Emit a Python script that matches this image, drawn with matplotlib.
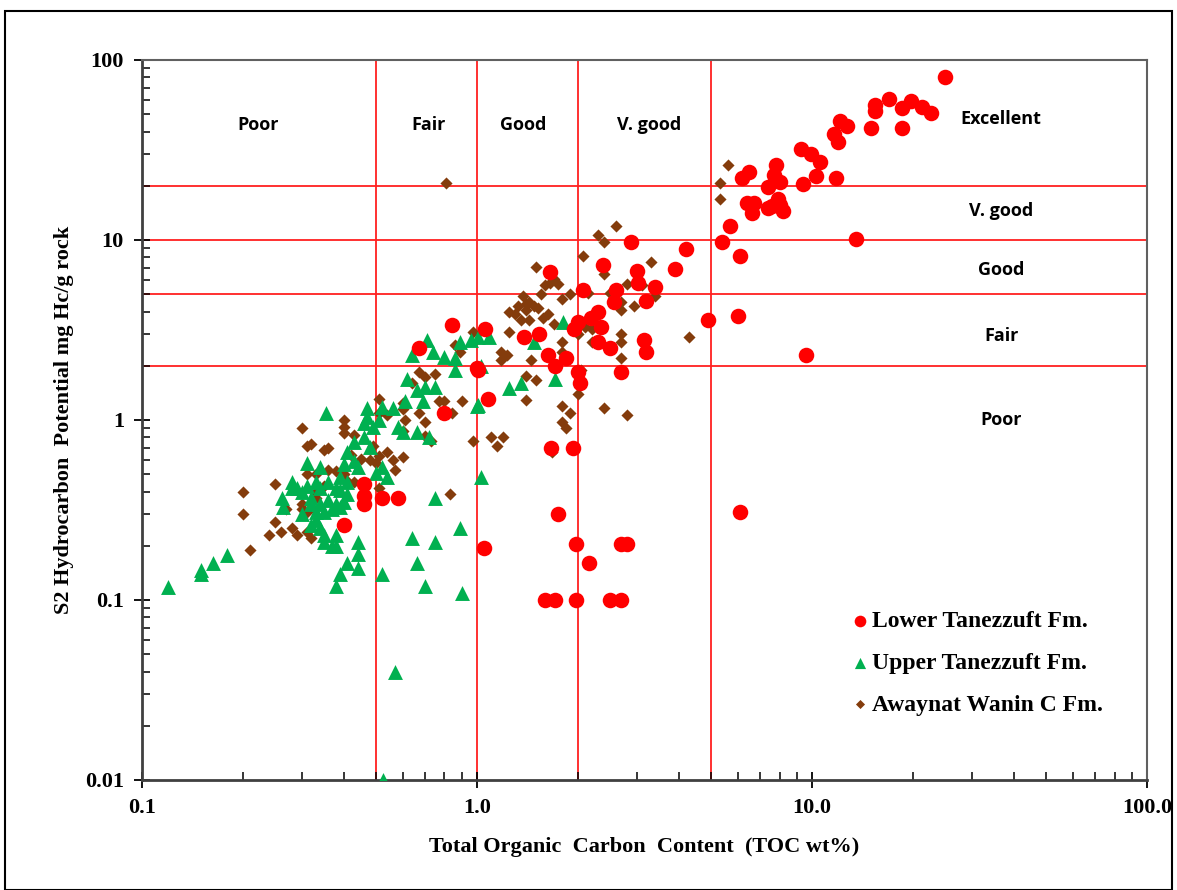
import matplotlib
matplotlib.use("Agg")
import matplotlib.pyplot as plt
from matplotlib.patches import Rectangle
from matplotlib.ticker import FixedLocator, FixedFormatter, LogLocator, NullFormatter

# Lower Tanezzuft Fm. (TOC wt%, S2 mg HC/g rock)
lower_toc = [25, 17.0, 15.4, 15.4, 18.6, 19.8, 21.3, 22.7, 15.0, 18.6, 12.1, 12.7, 11.6, 12.0,
             9.3, 9.9, 10.6, 10.3, 11.8, 9.4, 7.8, 7.7, 8.0, 7.4, 6.5, 6.2, 6.4, 6.7, 6.6, 7.4,
             7.9, 8.0, 8.2, 7.6, 5.7, 5.4, 6.1, 13.5, 4.9, 6.0, 9.6, 6.1,
             2.88, 4.2, 3.9, 2.37, 3.0, 3.03, 3.4, 3.2, 2.6, 2.57, 2.07, 1.65, 2.3, 2.19, 2.35,
             2.0, 1.95, 2.3, 2.5, 3.15, 3.2, 2.7, 2.0, 2.03, 1.85, 1.63, 1.71, 1.38, 1.53, 1.06,
             1.01, 1.08, 1.66, 1.94,
             0.84, 0.67, 0.80, 1.0, 0.46, 0.46, 0.52, 0.58, 0.40, 0.46,
             1.74, 1.05, 1.98, 2.7, 2.8, 2.16, 1.6, 1.71, 1.98, 2.5, 2.7]
lower_s2 = [80, 61, 56, 52, 54, 59, 55, 51, 42, 42, 46, 43, 39, 35,
            32, 30, 27, 22.6, 22, 20.5, 26, 23, 21, 19.8, 24, 22, 16, 16, 14.2, 15,
            17, 15.6, 14.4, 15.5, 12, 9.7, 8.1, 10.1, 3.6, 3.8, 2.3, 0.31,
            9.75, 8.9, 6.9, 7.3, 6.7, 5.8, 5.5, 4.6, 5.3, 4.5, 5.3, 6.6, 4.0, 3.7, 3.3,
            3.5, 3.2, 2.7, 2.5, 2.8, 2.4, 1.85, 1.85, 1.6, 2.2, 2.3, 2.0, 2.9, 3.0, 3.2,
            1.9, 1.3, 0.70, 0.70,
            3.37, 2.5, 1.1, 1.95, 0.38, 0.34, 0.37, 0.37, 0.26, 0.44,
            0.30, 0.195, 0.205, 0.205, 0.205, 0.16, 0.10, 0.10, 0.10, 0.10, 0.10]

# Upper Tanezzuft Fm.
upper_toc = [0.12, 0.15, 0.15, 0.163, 0.18,
             0.355, 0.262, 0.28, 0.28, 0.263, 0.29, 0.30, 0.31, 0.33, 0.34, 0.36, 0.32, 0.32,
             0.34, 0.35, 0.33, 0.32, 0.34, 0.35, 0.38, 0.31, 0.34, 0.40, 0.39, 0.38, 0.39, 0.37,
             0.33, 0.30, 0.36, 0.35, 0.37, 0.38,
             0.44, 0.44, 0.41, 0.44, 0.39, 0.38, 0.52, 0.64, 0.66, 0.75, 0.70, 0.89, 0.90, 0.75,
             1.03, 0.57, 0.525,
             0.71, 0.64, 0.74, 0.80, 0.86, 0.89, 0.96, 0.86, 0.62, 0.66, 0.70, 0.75, 0.69, 0.61,
             0.56, 0.52, 0.47, 0.47, 0.46, 0.49, 0.51, 0.58, 0.60, 0.66, 0.72, 0.46, 0.43, 0.41,
             0.48, 0.52, 0.43, 0.44, 0.50, 0.54, 0.41, 0.39, 0.41, 0.38, 0.40,
             1.81, 1.48, 1.71, 1.35, 1.25, 1.01, 1.03, 1.01, 1.09, 1.0]
upper_s2 = [0.118, 0.147, 0.14, 0.16, 0.178,
            1.09, 0.37, 0.45, 0.42, 0.33, 0.42, 0.40, 0.43, 0.45, 0.42, 0.45, 0.37, 0.34,
            0.34, 0.31, 0.28, 0.26, 0.25, 0.23, 0.23, 0.58, 0.55, 0.57, 0.48, 0.42, 0.33, 0.32,
            0.31, 0.30, 0.36, 0.21, 0.20, 0.20,
            0.21, 0.18, 0.16, 0.15, 0.14, 0.12, 0.14, 0.22, 0.16, 0.21, 0.12, 0.25, 0.11, 0.37,
            0.48, 0.04, 0.01,
            2.78, 2.3, 2.4, 2.25, 2.2, 2.7, 2.8, 1.9, 1.7, 1.47, 1.52, 1.52, 1.27, 1.27,
            1.17, 1.18, 1.17, 1.04, 0.96, 0.91, 1.0, 0.91, 0.86, 0.86, 0.80, 0.80, 0.75, 0.66,
            0.71, 0.55, 0.59, 0.55, 0.51, 0.48, 0.45, 0.41, 0.39, 0.34, 0.35,
            3.5, 2.7, 1.7, 1.6, 1.5, 1.21, 2.0, 2.9, 2.9, 1.2]

# Awaynat Wanin C Fm.
awaynat_toc = [0.2, 0.2, 0.21, 0.25, 0.24, 0.25, 0.26, 0.28, 0.29, 0.27, 0.30, 0.31, 0.32,
               0.31, 0.33, 0.30, 0.31, 0.32, 0.31, 0.35, 0.36, 0.36, 0.38, 0.40, 0.41, 0.43,
               0.35, 0.33, 0.33, 0.30, 0.40, 0.40, 0.40, 0.43, 0.42, 0.45, 0.48, 0.51, 0.50,
               0.54, 0.56, 0.60, 0.57, 0.51, 0.51, 0.54, 0.49, 0.51, 0.60, 0.60, 0.61, 0.60,
               0.64, 0.67, 0.70, 0.75, 0.77, 0.80, 0.90, 0.84, 0.67, 0.70, 0.70, 0.73, 0.83,
               0.97, 0.86, 0.89, 0.97, 0.81,
               5.6, 5.3, 5.3, 2.6, 2.3, 2.4, 2.07, 3.3, 2.4, 1.5, 2.8, 3.1, 3.4, 2.5, 2.7, 2.7,
               2.95, 2.15, 1.9, 1.8, 1.7, 1.65, 1.6, 1.75, 1.55, 1.37, 1.33, 1.4, 1.43, 1.48,
               1.52, 1.4, 1.25, 1.3, 1.35, 1.43, 1.57, 1.63, 1.7, 1.25, 2.1, 2.2, 2.2, 2.7, 2.7,
               4.3, 1.8, 1.8, 2.0, 2.05, 2.7, 1.18, 1.23, 1.18, 1.45, 1.4, 1.5, 1.4, 1.8, 1.9,
               1.8, 1.85, 2.0, 2.4, 2.8, 1.1, 1.2, 1.15, 1.67]
awaynat_s2 = [0.4, 0.3, 0.19, 0.44, 0.23, 0.27, 0.24, 0.25, 0.23, 0.32, 0.9, 0.72, 0.74,
              0.5, 0.5, 0.34, 0.31, 0.22, 0.24, 0.68, 0.70, 0.53, 0.52, 0.50, 0.46, 0.45,
              0.43, 0.40, 0.37, 0.32, 1.0, 0.92, 0.85, 0.83, 0.64, 0.61, 0.6, 0.63, 0.58,
              0.66, 0.6, 0.62, 0.53, 1.1, 1.3, 1.07, 0.72, 0.42, 1.25, 1.15, 1.0, 0.87,
              1.6, 1.85, 1.74, 1.8, 1.27, 1.27, 1.27, 1.1, 1.1, 0.98, 0.81, 0.76, 0.39,
              0.76, 2.6, 2.4, 3.1, 20.7,
              26, 20.7, 17, 12, 10.6, 9.8, 8.1, 7.5, 6.5, 7.1, 5.7, 5.6, 4.9, 5.1, 4.5, 4.1,
              4.3, 5.1, 5.0, 4.7, 6.1, 5.8, 5.6, 5.7, 5.0, 4.9, 4.3, 4.4, 4.5, 4.3,
              4.2, 4.1, 4.0, 3.9, 3.6, 3.6, 3.7, 3.9, 3.4, 3.1, 3.3, 3.2, 2.7, 3.0, 2.7,
              2.9, 2.7, 2.4, 3.0, 1.9, 2.2, 2.4, 2.3, 2.15, 2.15, 1.76, 1.67, 1.29, 1.2, 1.1,
              0.98, 0.9, 1.4, 1.16, 1.06, 0.8, 0.8, 0.72, 0.66]

# classification limits
toc_limits = [0.5, 1, 2, 5]
s2_limits = [2, 5, 10, 20]

serif = "Liberation Serif"
sans = "Open Sans"

fig = plt.figure(figsize=(11.77, 8.9), dpi=100)
ax = fig.add_axes([0.1206, 0.1236, 0.8539, 0.809])

ax.set_xscale("log")
ax.set_yscale("log")
ax.set_xlim(0.1, 100)
ax.set_ylim(0.01, 100)

for v in toc_limits:
    ax.axvline(v, color="#ff2020", lw=1.3, zorder=1)
for v in s2_limits:
    ax.axhline(v, color="#ff2020", lw=1.3, zorder=1)

ax.scatter(awaynat_toc, awaynat_s2, marker="D", s=38, color="#843C0C", lw=0, zorder=3,
           label="Awaynat Wanin C Fm.")
ax.scatter(upper_toc, upper_s2, marker="^", s=115, color="#00B050", lw=0, zorder=4,
           label="Upper Tanezzuft Fm.")
ax.scatter(lower_toc, lower_s2, marker="o", s=125, color="#FF0000", lw=0, zorder=5,
           label="Lower Tanezzuft Fm.")

# ticks
ax.xaxis.set_major_locator(FixedLocator([0.1, 1, 10, 100]))
ax.xaxis.set_major_formatter(FixedFormatter(["0.1", "1.0", "10.0", "100.0"]))
ax.yaxis.set_major_locator(FixedLocator([0.01, 0.1, 1, 10, 100]))
ax.yaxis.set_major_formatter(FixedFormatter(["0.01", "0.1", "1", "10", "100"]))
for axis in (ax.xaxis, ax.yaxis):
    axis.set_minor_locator(LogLocator(base=10, subs=range(2, 10)))
    axis.set_minor_formatter(NullFormatter())
ax.tick_params(which="major", direction="inout", length=12, width=1.3, colors="black",
               labelsize=16, pad=7)
ax.tick_params(which="minor", direction="in", length=6, width=1.1)
for lab in ax.get_xticklabels() + ax.get_yticklabels():
    lab.set_fontfamily(serif)
    lab.set_fontweight("bold")

for side in ("left", "bottom"):
    ax.spines[side].set_color("#404040")
    ax.spines[side].set_linewidth(2)
for side in ("top", "right"):
    ax.spines[side].set_color("#606060")
    ax.spines[side].set_linewidth(1.5)

ax.set_xlabel("Total Organic  Carbon  Content  (TOC wt%)", fontfamily=serif,
              fontweight="bold", fontsize=16, labelpad=14)
ax.set_ylabel("S2 Hydrocarbon  Potential mg Hc/g rock", fontfamily=serif,
              fontweight="bold", fontsize=16, labelpad=8)

# class names
zone_kw = dict(transform=ax.transAxes, fontfamily=sans, fontweight="bold", fontsize=13,
               ha="center", va="center")
for name, xf in [("Poor", 0.116), ("Fair", 0.285), ("Good", 0.379), ("V. good", 0.505)]:
    ax.text(xf, 0.91, name, **zone_kw)
for name, yf in [("Excellent", 0.918), ("V. good", 0.79), ("Good", 0.709),
                 ("Fair", 0.616), ("Poor", 0.5)]:
    ax.text(0.855, yf, name, **zone_kw)

handles, labels = ax.get_legend_handles_labels()
leg = ax.legend(handles[::-1], labels[::-1], loc="lower right", bbox_to_anchor=(0.977, 0.06),
                frameon=False, labelspacing=0.85, handletextpad=0.05, handlelength=0.9,
                markerscale=0.75, prop=dict(family=serif, weight="bold", size=17))

fig.patches.append(Rectangle((0.004, 0.0), 0.992, 0.988, transform=fig.transFigure,
                             fill=False, edgecolor="black", lw=1.5))

fig.savefig("out.png", dpi=100)
